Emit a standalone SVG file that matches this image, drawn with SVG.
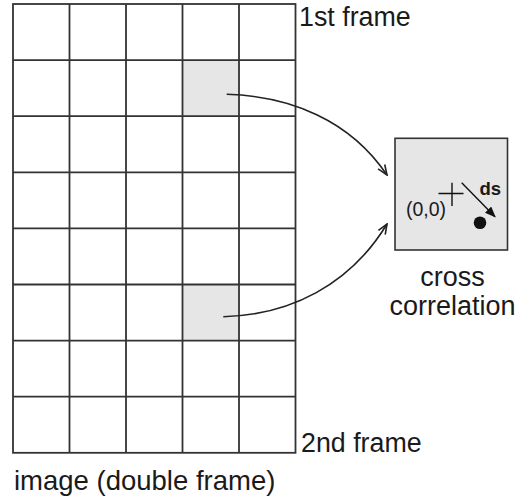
<svg xmlns="http://www.w3.org/2000/svg" width="519" height="501" viewBox="0 0 519 501">
<defs>
<style>
.grid{fill:none;stroke:#333;stroke-width:1.8}
.shade{fill:#e6e6e6;stroke:none}
.lbl{font-family:"Liberation Sans",Arial,sans-serif;fill:#1a1a1a}
.conn{fill:none;stroke:#222;stroke-width:1.6}
</style>
<marker id="openArrow" viewBox="0 0 12 10" refX="11" refY="5" markerWidth="12" markerHeight="10" markerUnits="userSpaceOnUse" orient="auto">
<path d="M1,1 L11,5 L1,9" fill="none" stroke="#222" stroke-width="1.6"/>
</marker>
<marker id="solidArrow" viewBox="0 0 10 8" refX="9" refY="4" markerWidth="11" markerHeight="9" markerUnits="userSpaceOnUse" orient="auto">
<path d="M0,0 L10,4 L0,8 Z" fill="#111"/>
</marker>
</defs>
<g id="image-grid">
<rect class="shade" x="182.5" y="60.1" width="56.5" height="56.1"/>
<rect class="shade" x="182.5" y="284.5" width="56.5" height="56.1"/>
<rect class="grid" x="13" y="4" width="282.5" height="448.8"/>
<path class="grid" d="M69.5,4V452.8M126,4V452.8M182.5,4V452.8M239,4V452.8M13,60.1H295.5M13,116.2H295.5M13,172.3H295.5M13,228.4H295.5M13,284.5H295.5M13,340.6H295.5M13,396.7H295.5"/>
<text class="lbl" x="299" y="26" font-size="26.8">1st frame</text>
<text class="lbl" x="301" y="452" font-size="26.8">2nd frame</text>
<text class="lbl" x="14" y="490" font-size="27.5">image (double frame)</text>
</g>
<g id="cross-correlation">
<rect x="395" y="138.3" width="112.5" height="111.7" fill="#e6e6e6" stroke="#333" stroke-width="1.6"/>
<path d="M438.5,193.5H463.5M452,182.7V206" stroke="#111" stroke-width="1.4" fill="none"/>
<text class="lbl" x="406" y="216" font-size="19.5">(0,0)</text>
<text class="lbl" x="479.5" y="194.5" font-size="18.5" font-weight="bold">ds</text>
<line x1="461.7" y1="182.7" x2="495" y2="216.7" stroke="#111" stroke-width="1.4" marker-end="url(#solidArrow)"/>
<circle cx="480" cy="222.7" r="6.3" fill="#111"/>
<text class="lbl" x="452.5" y="286" font-size="27" text-anchor="middle">cross</text>
<text class="lbl" x="452.5" y="315" font-size="27" text-anchor="middle">correlation</text>
</g>
<g id="connectors">
<path class="conn" d="M226.7,94.3C290,96 350,120 387,175" marker-end="url(#openArrow)"/>
<path class="conn" d="M223.3,316.7C290,315 350,285 387,224" marker-end="url(#openArrow)"/>
</g>
</svg>
